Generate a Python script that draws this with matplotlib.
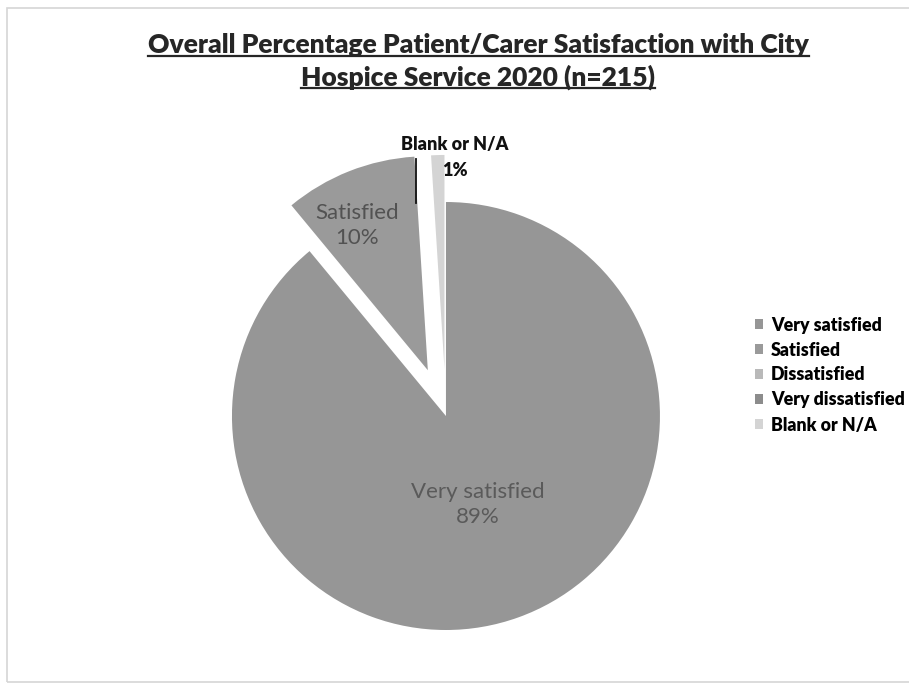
import numpy as np
import matplotlib.pyplot as plt
from matplotlib.lines import Line2D
from matplotlib.patches import Rectangle

categories = ["Very satisfied", "Satisfied", "Dissatisfied", "Very dissatisfied", "Blank or N/A"]
percent = [89, 10, 0, 0, 1]
colors = ["#969696", "#9a9a9a", "#b9b9b9", "#8c8c8c", "#d4d4d4"]
explode = [0, 0.23, 0, 0, 0.22]
title_lines = ["Overall Percentage Patient/Carer Satisfaction with City",
               "Hospice Service 2020 (n=215)"]

plt.rcParams['font.family'] = ['Lato', 'DejaVu Sans']

fig = plt.figure(figsize=(9.09, 6.84), dpi=100)

# faint frame of the scanned chart
fig.patches.append(Rectangle((7 / 909, 2 / 684), 1.1, 674 / 684, transform=fig.transFigure,
                             fill=False, edgecolor="#d6d6d6", linewidth=1.2))

ax = fig.add_axes([0.161, -0.0462, 0.6592, 0.876])
wedges, _ = ax.pie(percent, colors=colors, explode=explode, startangle=90,
                   counterclock=False, radius=1, wedgeprops=dict(linewidth=0))
ax.set_xlim(-1.4, 1.4)
ax.set_ylim(-1.4, 1.4)
ax.set_aspect('equal')
ax.axis('off')

# data labels inside the slices
def mid_point(w, r):
    th = np.deg2rad((w.theta1 + w.theta2) / 2)
    cx, cy = w.center
    return cx + r * np.cos(th), cy + r * np.sin(th)

x, y = mid_point(wedges[0], 0.44)
ax.text(x, y, f"{categories[0]}\n{percent[0]}%", ha="center", va="center",
        fontsize=16, color="#5a5a5a", linespacing=1.3)

th = np.deg2rad((wedges[1].theta1 + wedges[1].theta2) / 2 + 4.5)
cx, cy = wedges[1].center
ax.text(cx + 0.755 * np.cos(th), cy + 0.755 * np.sin(th), f"{categories[1]}\n{percent[1]}%",
        ha="center", va="center", fontsize=16, color="#525252", linespacing=1.3)

# blank label sits outside, with a leader line
bx, by = mid_point(wedges[4], 1.0)
ax.text(bx + 0.08, by - 0.01, f"{categories[4]}\n{percent[4]}%", ha="center", va="center",
        fontsize=13, fontweight="heavy", color="#111111", linespacing=1.65, clip_on=False)
ax.plot([bx - 0.1, bx - 0.1], [by - 0.02, by - 0.225], color="#111111", linewidth=1.3)

# legend on the right
handles = [Rectangle((0, 0), 1, 1, facecolor=c, edgecolor="none") for c in colors]
fig.legend(handles, categories, loc="center left", bbox_to_anchor=(755 / 909, 1 - 375 / 684),
           frameon=False, prop=dict(weight="heavy", size=12.8),
           handlelength=0.45, handleheight=0.45, handletextpad=0.45, labelspacing=0.45,
           borderpad=0, borderaxespad=0)

# underlined two-line title
title_y = [1 - 45 / 684, 1 - 77 / 684]
texts = [fig.text(0.526, ty, t, ha="center", va="center", fontsize=19.0,
                  fontweight="heavy", color="#262626") for t, ty in zip(title_lines, title_y)]
fig.canvas.draw()
renderer = fig.canvas.get_renderer()
inv = fig.transFigure.inverted()
for t in texts:
    bb = t.get_window_extent(renderer).transformed(inv)
    fig.lines.append(Line2D([bb.x0, bb.x1], [bb.y0 + 0.002, bb.y0 + 0.002],
                            transform=fig.transFigure, color="#262626", linewidth=1.6))

fig.savefig("out.png", dpi=100)
